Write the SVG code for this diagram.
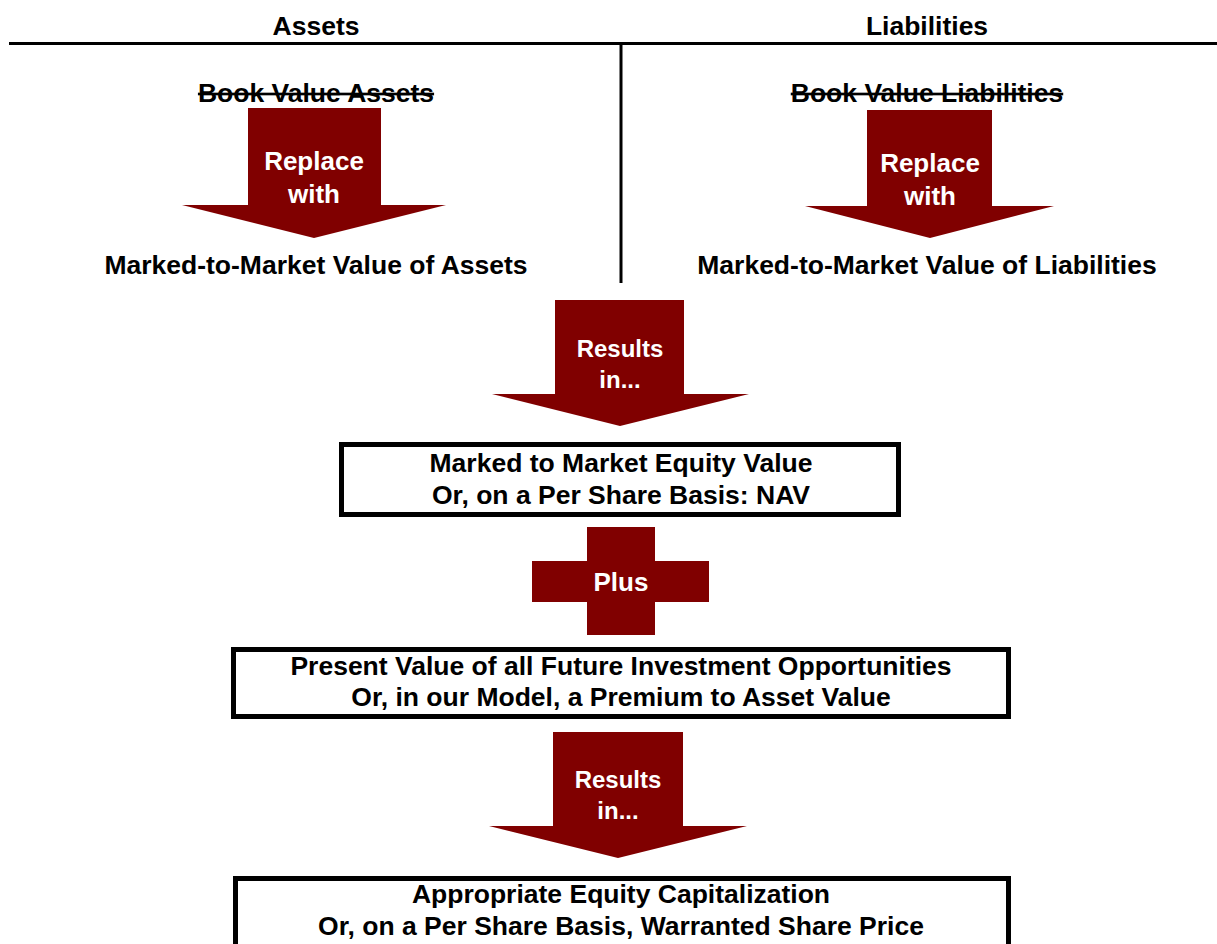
<svg xmlns="http://www.w3.org/2000/svg" width="1217" height="944" viewBox="0 0 1217 944">
<style>
text{font-family:"Liberation Sans",Arial,sans-serif;font-weight:bold;text-anchor:middle;}
.k{fill:#000;font-size:26.5px;}
.w{fill:#fff;font-size:26px;}
.w24{fill:#fff;font-size:24px;}
.arrow{fill:#800000;}
.box{fill:#fff;stroke:#000;stroke-width:5;}
.rule{stroke:#000;stroke-width:3;fill:none;}
.strike{text-decoration:line-through;}
</style>
<g id="connectors">
<line class="rule" x1="9" y1="43.5" x2="1217" y2="43.5"/>
<line class="rule" x1="621" y1="43" x2="621" y2="283"/>
</g>
<g id="header-assets"><text class="k" x="316" y="35">Assets</text></g>
<g id="header-liabilities"><text class="k" x="927" y="35">Liabilities</text></g>
<g id="book-assets"><text class="k strike" x="316" y="102">Book Value Assets</text></g>
<g id="book-liabilities"><text class="k strike" x="927" y="102">Book Value Liabilities</text></g>
<g id="arrow-replace-assets">
<polygon class="arrow" points="248,108 381,108 381,205 446,205 314,238 182,205 248,205"/>
<text class="w" x="314" y="170">Replace</text>
<text class="w" x="314" y="203">with</text>
</g>
<g id="arrow-replace-liabilities">
<polygon class="arrow" points="867,110 992,110 992,206 1054,206 930,238 805,206 867,206"/>
<text class="w" x="930" y="172">Replace</text>
<text class="w" x="930" y="205">with</text>
</g>
<g id="mtm-assets"><text class="k" x="316" y="274">Marked-to-Market Value of Assets</text></g>
<g id="mtm-liabilities"><text class="k" x="927" y="274">Marked-to-Market Value of Liabilities</text></g>
<g id="arrow-results-1">
<polygon class="arrow" points="555,300 684,300 684,394 749,394 620,426 492,394 555,394"/>
<text class="w24" x="620" y="357">Results</text>
<text class="w24" x="620" y="388">in...</text>
</g>
<g id="box-equity">
<rect class="box" x="341.5" y="444.5" width="557" height="70"/>
<text class="k" x="621" y="472">Marked to Market Equity Value</text>
<text class="k" x="621" y="504">Or, on a Per Share Basis: NAV</text>
</g>
<g id="plus">
<polygon class="arrow" points="587,527 655,527 655,561 709,561 709,602 655,602 655,635 587,635 587,602 532,602 532,561 587,561"/>
<text class="w" x="621" y="591">Plus</text>
</g>
<g id="box-pv">
<rect class="box" x="233.5" y="649.5" width="775" height="67"/>
<text class="k" x="621" y="675">Present Value of all Future Investment Opportunities</text>
<text class="k" x="621" y="706">Or, in our Model, a Premium to Asset Value</text>
</g>
<g id="arrow-results-2">
<polygon class="arrow" points="553,732 683,732 683,826 747,826 618,858 489,826 553,826"/>
<text class="w24" x="618" y="788">Results</text>
<text class="w24" x="618" y="819">in...</text>
</g>
<g id="box-cap">
<rect class="box" x="235.5" y="878.5" width="773" height="80"/>
<text class="k" x="621" y="903">Appropriate Equity Capitalization</text>
<text class="k" x="621" y="935">Or, on a Per Share Basis, Warranted Share Price</text>
</g>
</svg>
